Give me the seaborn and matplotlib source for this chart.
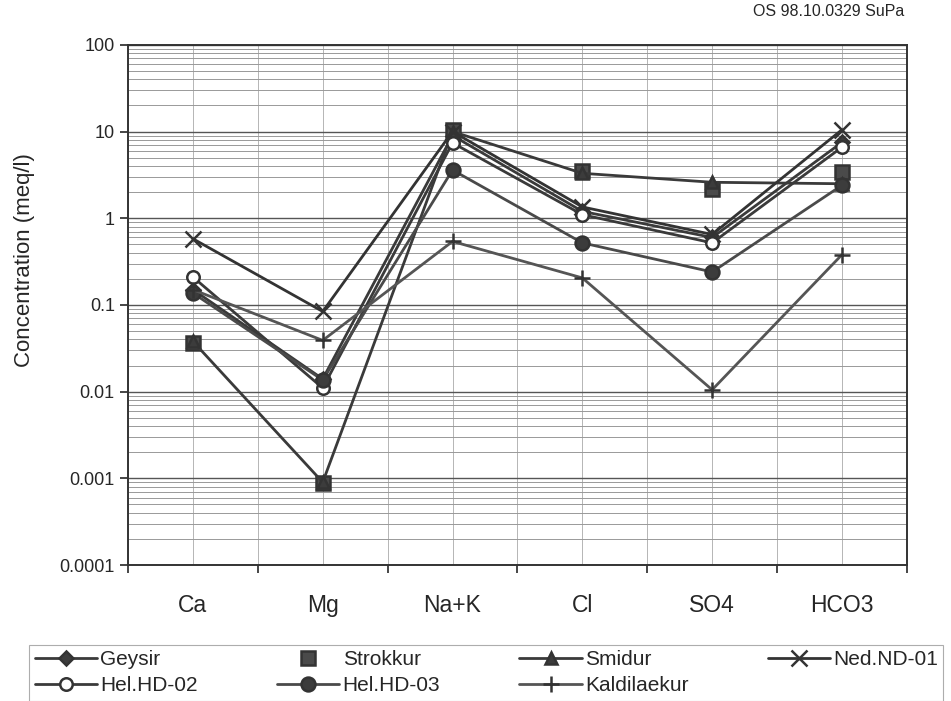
import numpy as np
import pandas as pd
import seaborn as sns
import matplotlib.pyplot as plt
from matplotlib.ticker import FixedLocator, LogLocator, NullFormatter

# Ion categories (x axis)
ions = ["Ca", "Mg", "Na+K", "Cl", "SO4", "HCO3"]

# Concentrations (meq/l)
geysir = [0.15, 0.014, 9.0, 1.2, 0.6, 7.5]
strokkur = [0.036, 0.00088, 10.5, 3.5, 2.2, 3.4]
smidur = [0.038, 0.00090, 10.0, 3.3, 2.6, 2.5]
ned_nd01 = [0.58, 0.084, 10.0, 1.35, 0.65, 10.5]
hel_hd02 = [0.21, 0.011, 7.4, 1.1, 0.52, 6.6]
hel_hd03 = [0.137, 0.0136, 3.6, 0.52, 0.24, 2.4]
kaldilaekur = [0.15, 0.039, 0.54, 0.205, 0.0105, 0.38]

y_ticks = [0.0001, 0.001, 0.01, 0.1, 1, 10, 100]
y_tick_labels = ["0.0001", "0.001", "0.01", "0.1", "1", "10", "100"]

series = {
    "Geysir": geysir,
    "Strokkur": strokkur,
    "Smidur": smidur,
    "Ned.ND-01": ned_nd01,
    "Hel.HD-02": hel_hd02,
    "Hel.HD-03": hel_hd03,
    "Kaldilaekur": kaldilaekur,
}

styles = {
    "Geysir": dict(marker="D", ms=7, mfc="#3c3c3c", ls="-", color="#3a3a3a"),
    "Strokkur": dict(marker="s", ms=10, mfc="#4a4a4a", ls="", color="#3a3a3a"),
    "Smidur": dict(marker="^", ms=9, mfc="#3c3c3c", ls="-", color="#3a3a3a"),
    "Ned.ND-01": dict(marker="x", ms=11, mfc="none", ls="-", color="#333333"),
    "Hel.HD-02": dict(marker="o", ms=9, mfc="white", ls="-", color="#3a3a3a"),
    "Hel.HD-03": dict(marker="o", ms=10, mfc="#3c3c3c", ls="-", color="#4a4a4a"),
    "Kaldilaekur": dict(marker="+", ms=12, mfc="none", ls="-", color="#555555"),
}

sns.set_style("white")
plt.rcParams["font.family"] = ["Liberation Sans", "DejaVu Sans"]

fig = plt.figure(figsize=(9.51, 7.01), dpi=100)
ax = fig.add_axes([0.1346, 0.194, 0.819, 0.742])

handles = {}
for name, vals in series.items():
    st = styles[name]
    df = pd.DataFrame({"Ion": ions, "Conc": vals})
    sns.lineplot(data=df, x="Ion", y="Conc", ax=ax, sort=False,
                 color=st["color"], linestyle=st["ls"] if st["ls"] else "none",
                 linewidth=2.0, marker=st["marker"], markersize=st["ms"],
                 markerfacecolor=st["mfc"], markeredgecolor="#333333",
                 markeredgewidth=1.8, label=name, zorder=3)
    handles[name] = ax.get_lines()[-1]

ax.set_yscale("log")
ax.set_ylim(0.0001, 100)
ax.set_xlim(-0.5, 5.5)
ax.set_yticks(y_ticks)
ax.set_yticklabels(y_tick_labels, fontsize=13)
ax.yaxis.set_minor_locator(LogLocator(base=10, subs=np.arange(2, 10)))
ax.yaxis.set_minor_formatter(NullFormatter())
ax.tick_params(axis="y", which="major", direction="out", length=6, width=1.2, left=True)
ax.tick_params(axis="y", which="minor", length=0)

# category labels at centres, tick marks at boundaries
ax.set_xticks(range(len(ions)))
ax.set_xticklabels(ions, fontsize=16.5)
ax.tick_params(axis="x", which="major", length=0, pad=21)
ax.xaxis.set_minor_locator(FixedLocator(np.arange(-0.5, len(ions), 1.0)))
ax.tick_params(axis="x", which="minor", direction="out", length=6, width=1.2, bottom=True)

ax.grid(True, which="major", axis="y", color="#555555", linewidth=1.0)
ax.grid(True, which="minor", axis="y", color="#999999", linewidth=0.7)
ax.grid(True, which="major", axis="x", color="#aaaaaa", linewidth=0.6)
ax.grid(True, which="minor", axis="x", color="#aaaaaa", linewidth=0.6)
ax.set_axisbelow(True)

for sp in ax.spines.values():
    sp.set_color("#333333")
    sp.set_linewidth(1.4)

ax.set_xlabel("")
ax.set_ylabel("Concentration (meq/l)", fontsize=16)
ax.yaxis.set_label_coords(-0.12, 0.587)
ax.legend().remove()

fig.text(0.951, 0.984, "OS 98.10.0329 SuPa", ha="right", va="center", fontsize=11.5)

order = ["Geysir", "Hel.HD-02", "Strokkur", "Hel.HD-03", "Smidur", "Kaldilaekur", "Ned.ND-01"]
leg = fig.legend([handles[n] for n in order], order, ncol=4, loc="upper left",
                 bbox_to_anchor=(0.02, 0.095), fontsize=15, frameon=True,
                 fancybox=False, edgecolor="#999999", handlelength=3.0,
                 handletextpad=0.15, columnspacing=3.8, labelspacing=0.35,
                 borderpad=0.25)
leg.get_frame().set_linewidth(0.8)

fig.savefig("out.png", dpi=100)
